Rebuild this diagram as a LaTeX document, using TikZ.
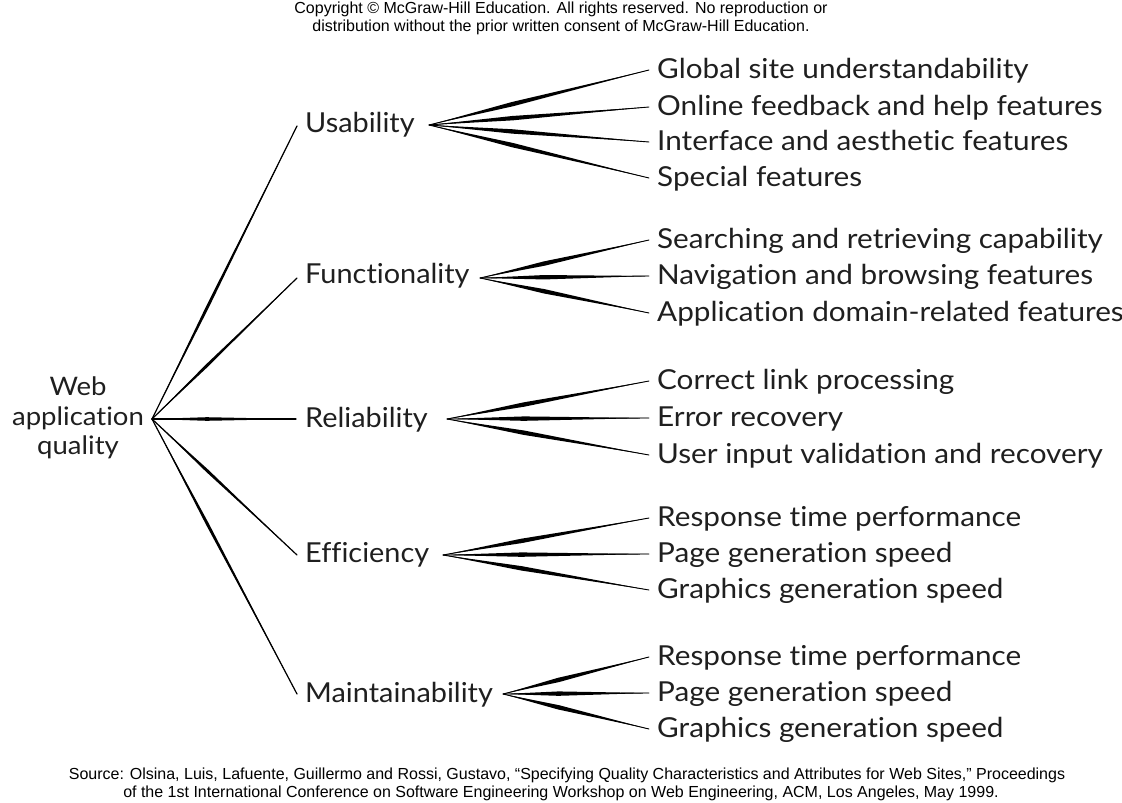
\documentclass[tikz,border=0pt]{standalone}
\usepackage{fontspec}
\setmainfont{Liberation Sans}
\newfontfamily\labfont{Lato}[FakeStretch=1.08,Ligatures=NoCommon]
\newfontfamily\catfont{Lato}[FakeStretch=1.05,Ligatures=NoCommon]
\usetikzlibrary{calc}
\newcommand\brush[4][0.9pt]{%
  \fill[black, line join=round] (#2) -- ($(#2)!0.38!(#3)!#4!90:(#3)$) -- (#3)
     -- ($(#2)!0.38!(#3)!#4!-90:(#3)$) -- cycle;
  \draw[line width=#1, line cap=round] (#2) -- (#3);}
\tikzset{
  lab/.style={font=\labfont\fontsize{27.5}{30}\selectfont, inner sep=0pt, text height=19.8pt, text depth=0pt, anchor=west, text=black!88},
  cat/.style={lab, font=\catfont\fontsize{27.5}{30}\selectfont},
  note/.style={font=\fontsize{16}{18}\selectfont, inner sep=0pt, anchor=base, text=black},
}
\begin{document}
\begin{tikzpicture}[x=1pt,y=-1pt]
\useasboundingbox (0,0) rectangle (1122,803);
% header and footer
\node[note] (hdr1) at (561,13) {Copyright \textcopyright\ McGraw-Hill Education. All rights reserved. No reproduction or};
\node[note] (hdr2) at (561,31) {distribution without the prior written consent of McGraw-Hill Education.};
\node[note] (ftr1) at (567,779) {Source: Olsina, Luis, Lafuente, Guillermo and Rossi, Gustavo, “Specifying Quality Characteristics and Attributes for Web Sites,” Proceedings};
\node[note] (ftr2) at (561,797) {of the 1st International Conference on Software Engineering Workshop on Web Engineering, ACM, Los Angeles, May 1999.};
% root
\node[font=\labfont\fontsize{25.5}{29.5}\selectfont, align=center, inner sep=0pt, text=black!88] (root) at (78,418) {Web\\application\\quality};
\coordinate (r) at (152,419);
% level 1
\node[cat] (u) at (305,123) {Usability};
\node[cat] (f) at (305,274) {Functionality};
\node[cat] (rl) at (305,418) {Reliability};
\node[cat] (e) at (305,553) {Efficiency};
\node[cat] (m) at (305,693) {Maintainability};
\coordinate (ue) at (297,126);
\coordinate (fe) at (297,278);
\coordinate (rle) at (296,419);
\coordinate (ee) at (297,555);
\coordinate (me) at (297,694);
\brush[1.2pt]{r}{ue}{1.5pt}
\brush[1.2pt]{r}{fe}{1.5pt}
\brush[1.2pt]{r}{rle}{1.8pt}
\brush[1.2pt]{r}{ee}{1.5pt}
\brush[1.2pt]{r}{me}{1.5pt}
% level 1 sources
\coordinate (us) at (429,125);
\coordinate (fs) at (480,278);
\coordinate (rs) at (447,419);
\coordinate (es) at (443,555);
\coordinate (ms) at (503,694);
% level 2 labels
\node[lab] (u1) at (657,69) {Global site understandability};
\node[lab] (u2) at (657,106) {Online feedback and help features};
\node[lab] (u3) at (657,141) {Interface and aesthetic features};
\node[lab] (u4) at (657,177) {Special features};
\node[lab] (f1) at (657,239) {Searching and retrieving capability};
\node[lab] (f2) at (657,275) {Navigation and browsing features};
\node[lab] (f3) at (657,312) {Application domain-related features};
\node[lab] (r1) at (657,380) {Correct link processing};
\node[lab] (r2) at (657,417) {Error recovery};
\node[lab] (r3) at (657,454) {User input validation and recovery};
\node[lab] (e1) at (657,517) {Response time performance};
\node[lab] (e2) at (657,553) {Page generation speed};
\node[lab] (e3) at (657,589) {Graphics generation speed};
\node[lab] (m1) at (657,656) {Response time performance};
\node[lab] (m2) at (657,692) {Page generation speed};
\node[lab] (m3) at (657,728) {Graphics generation speed};
% level 2 connectors
\foreach \s/\t in {us/u1,us/u2,us/u3,us/u4,fs/f1,fs/f2,fs/f3,rs/r1,rs/r2,rs/r3,es/e1,es/e2,es/e3,ms/m1,ms/m2,ms/m3}{
  \coordinate (\t e) at ($(\t.west)+(-8,1)$);
  \brush{\s}{\t e}{2.2pt}
}
\end{tikzpicture}
\end{document}
